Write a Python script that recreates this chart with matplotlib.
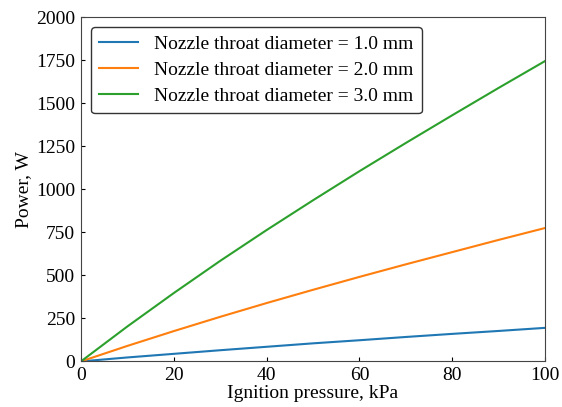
import matplotlib
matplotlib.use('Agg')
import matplotlib.pyplot as plt

plt.rcParams['font.family'] = ['Liberation Serif', 'DejaVu Serif']

# ignition pressure, kPa
pressure = [0, 10, 20, 30, 40, 50, 60, 70, 80, 90, 100]
# power, W for each nozzle throat diameter
power_d1 = [0, 23, 44, 65, 85, 105, 123, 142, 160, 177, 195]
power_d2 = [0, 90, 176, 259, 339, 416, 491, 564, 635, 706, 775]
power_d3 = [0, 203, 397, 584, 763, 936, 1105, 1269, 1430, 1589, 1745]
labels = ['Nozzle throat diameter = 1.0 mm',
          'Nozzle throat diameter = 2.0 mm',
          'Nozzle throat diameter = 3.0 mm']

fig = plt.figure(figsize=(5.62, 4.07), dpi=100)
ax = fig.add_axes([0.144, 0.112, 0.826, 0.846])

ax.plot(pressure, power_d1, color='#1f77b4', lw=1.5, label=labels[0])
ax.plot(pressure, power_d2, color='#ff7f0e', lw=1.5, label=labels[1])
ax.plot(pressure, power_d3, color='#2ca02c', lw=1.5, label=labels[2])

ax.set_xlim(0, 100)
ax.set_ylim(0, 2000)
ax.set_yticks(range(0, 2001, 250))
ax.set_xticks(range(0, 101, 20))
ax.tick_params(axis='both', direction='in', labelsize=14, length=3)
ax.tick_params(axis='x', pad=4)
ax.tick_params(axis='y', pad=4)
for s in ax.spines.values():
    s.set_color('#444444')

ax.set_xlabel('Ignition pressure, kPa', fontsize=14, labelpad=1)
ax.set_ylabel('Power, W', fontsize=14, labelpad=3)

leg = ax.legend(loc='upper left', fontsize=14, handlelength=2.0,
                borderpad=0.45, labelspacing=0.42, fancybox=True)
leg.get_frame().set_edgecolor('#333333')
leg.get_frame().set_alpha(1)

fig.savefig('out.png', dpi=100)
